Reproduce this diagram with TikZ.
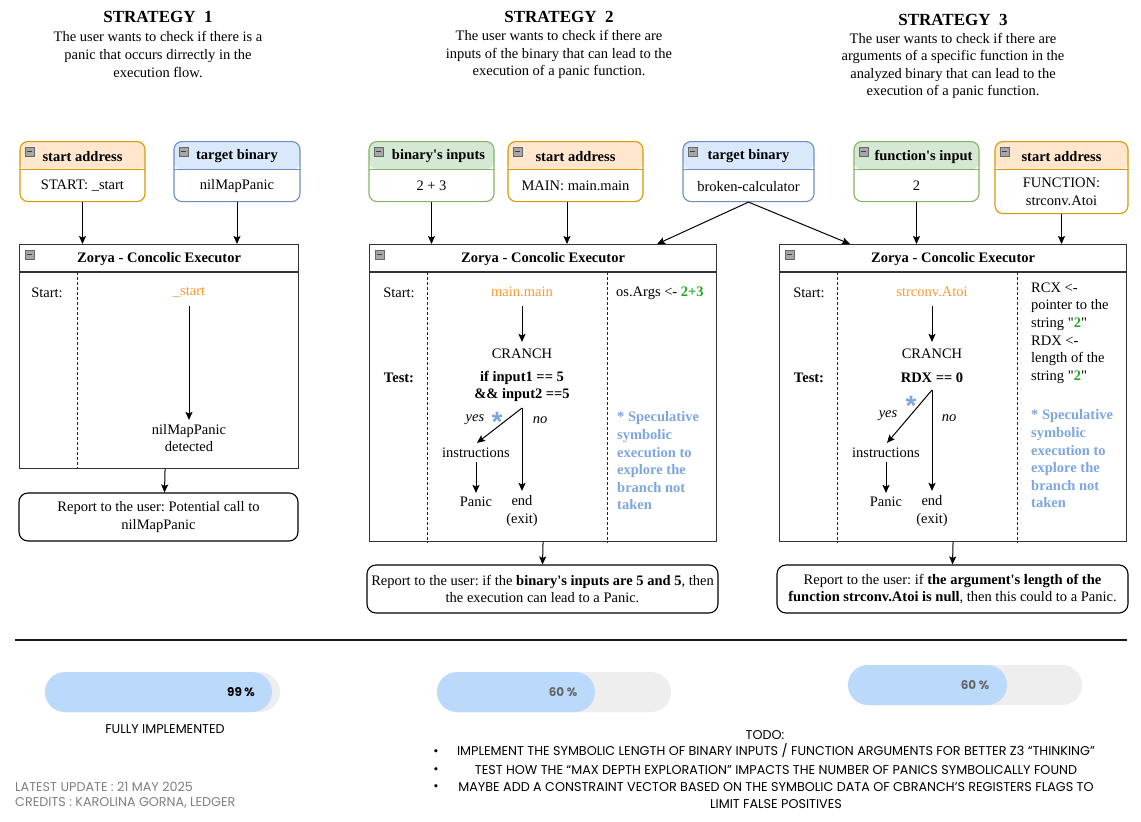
\documentclass[tikz,border=0pt]{standalone}
\usepackage{fontspec}
\setmainfont{Liberation Serif}[Ligatures=TeXOff]
\newfontfamily\pop{Poppins}
\newfontfamily\lsans{Liberation Sans}
\usetikzlibrary{arrows.meta}
\frenchspacing
\definecolor{cOf}{HTML}{FFE6CC}\definecolor{cOs}{HTML}{D79B00}
\definecolor{cBf}{HTML}{DAE8FC}\definecolor{cBs}{HTML}{6C8EBF}
\definecolor{cGf}{HTML}{D5E8D4}\definecolor{cGs}{HTML}{82B366}
\definecolor{orangeT}{HTML}{FF9933}
\definecolor{greenT}{HTML}{1FAA1F}
\definecolor{blueT}{HTML}{7EA6E0}
\definecolor{barB}{HTML}{BBDAFB}
\definecolor{barG}{HTML}{EEEEEE}
\definecolor{footG}{HTML}{808080}
\definecolor{pctG}{HTML}{666666}
\tikzset{
  every node/.style={font=\frenchspacing\fontsize{14.5}{17.6}\selectfont, inner sep=1pt, align=center},
  arr/.style={-{Stealth[length=8pt,width=7pt,inset=1.5pt]}, line width=1pt},
  swim/.style={rounded corners=8pt, line width=1.1pt, fill=white, inner sep=0pt},
  hdr/.style={font=\fontsize{14.5}{16}\selectfont\bfseries},
  ttl/.style={font=\fontsize{17}{20}\selectfont\bfseries},
  zbox/.style={draw=black!80, line width=1.1pt, inner sep=0pt},
  zsep/.style={draw=black!80, line width=1.1pt},
  dsep/.style={draw=black!85, line width=1pt, dash pattern=on 3pt off 2pt},
  boldt/.style={font=\fontsize{14.5}{17}\selectfont\bfseries},
  ital/.style={font=\fontsize{14.5}{16}\selectfont\itshape},
  orng/.style={text=orangeT},
  spec/.style={font=\fontsize{14.5}{17.6}\selectfont\bfseries, text=blueT, align=left},
  astx/.style={font=\lsans\fontsize{28}{28}\selectfont\bfseries, text=blueT, inner sep=0pt},
  report/.style={draw=black, line width=1.1pt, rounded corners=9pt, fill=white},
  iconst/.style={fill=black!35, draw=black!60, line width=0.5pt},
  popf/.style={font=\pop\fontsize{12.75}{15}\selectfont},
  pctf/.style={font=\pop\fontsize{12}{14}\selectfont\bfseries},
}
\newcommand\minusicon[1]{%
  \filldraw[iconst] ([shift={(6pt,-6pt)}]#1.north west) rectangle ([shift={(15pt,-15pt)}]#1.north west);
  \draw[line width=0.9pt, black!75] ([shift={(8pt,-10.5pt)}]#1.north west) -- ([shift={(13pt,-10.5pt)}]#1.north west);}
\newcommand\swimbox[9]{%
  \node[swim, draw=c#6s, minimum width=#4pt, minimum height=#5pt, anchor=north,
    path picture={\fill[c#6f] (path picture bounding box.north west) rectangle ([yshift=-28pt]path picture bounding box.north east);
      \draw[c#6s, line width=1.1pt] ([yshift=-28pt]path picture bounding box.north west) -- ([yshift=-28pt]path picture bounding box.north east);}] (#1) at (#2,#3) {};
  \node[hdr] (#1h) at ([xshift=#9pt,yshift=-15.5pt]#1.north) {#7};
  \node (#1b) at ([yshift=-14.5pt]#1.center) {#8};
  \minusicon{#1}}
\begin{document}
\begin{tikzpicture}[x=1pt,y=-1pt]
\useasboundingbox[fill=white] (0,0) rectangle (1141,822);

% titles
\node[ttl] (t1) at (158,17) {STRATEGY\ \ 1};
\node (d1) at (158,54.5) {The user wants to check if there is a\\panic that occurs dirrectly in the\\execution flow.};
\node[ttl] (t2) at (559,17) {STRATEGY\ \ 2};
\node (d2) at (559,54.5) {The user wants to check if there are\\inputs of the binary that can lead to the\\execution of a panic function.};
\node[ttl] (t3) at (953,20) {STRATEGY\ \ 3};
\node (d3) at (953,66) {The user wants to check if there are\\arguments of a specific function in the\\analyzed binary that can lead to the\\execution of a panic function.};

% input boxes
\swimbox{sa1}{82.5}{141}{125}{60}{O}{start address}{START: \_start}{0}
\swimbox{tb1}{237}{141}{126}{60}{B}{target binary}{nilMapPanic}{0}
\swimbox{bi2}{431.5}{141}{125}{60}{G}{binary's inputs}{2 + 3}{7}
\swimbox{sa2}{575.5}{141}{135}{60}{O}{start address}{MAIN: main.main}{0}
\swimbox{tb2}{748.5}{141}{131}{60}{B}{target binary}{broken-calculator}{0}
\swimbox{fi3}{916.5}{141}{125}{60}{G}{function's input}{2}{7}
\swimbox{sa3}{1061.5}{141}{133}{72}{O}{start address}{FUNCTION:\\strconv.Atoi}{0}

% Zorya boxes
\node[zbox, minimum width=279pt, minimum height=224pt, anchor=north west] (z1) at (19,244) {};
\node[zbox, minimum width=347pt, minimum height=297pt, anchor=north west] (z2) at (369,244) {};
\node[zbox, minimum width=347pt, minimum height=297pt, anchor=north west] (z3) at (779,244) {};
\foreach \z in {z1,z2,z3}{
  \draw[zsep] ([yshift=-28pt]\z.north west) -- ([yshift=-28pt]\z.north east);
  \node[hdr] (\z t) at ([yshift=-15.5pt]\z.north) {Zorya - Concolic Executor};
  \minusicon{\z}
  \draw[dsep] ([xshift=58pt,yshift=-28pt]\z.north west) -- ([xshift=58pt]\z.south west);
}
\draw[dsep] ([xshift=238pt,yshift=-28pt]z2.north west) -- ([xshift=238pt]z2.south west);
\draw[dsep] ([xshift=238pt,yshift=-28pt]z3.north west) -- ([xshift=238pt]z3.south west);

% strategy 1 contents
\node (s1l) at (47,293) {Start:};
\node[orng] (m1) at (189,292) {\_start};
\node (det1) at (189,438) {nilMapPanic\\detected};
\draw[arr] ([yshift=-8pt]m1.south) -- ([yshift=3pt]det1.north);

% strategy 2 contents
\node (s2l) at (399,293) {Start:};
\node[boldt] (t2l) at (399,378) {Test:};
\node[orng] (m2) at (522,292) {main.main};
\node (c2) at (522,354) {CRANCH};
\node[boldt] (if2) at (522,386) {if input1 == 5\\\&\& input2 ==5};
\coordinate (br2) at (522,408);
\node (in2) at (476,453) {instructions};
\node (p2) at (476,502) {Panic};
\node (e2) at (522,511) {end\\(exit)};
\node[ital] (y2) at (475,420) {yes};
\node[astx] (a2) at (497,422) {*};
\node[ital] (n2) at (540,420) {no};
\draw[arr] ([yshift=-8pt]m2.south) -- ([yshift=6pt]c2.north);
\draw[arr] (br2) -- ([xshift=1pt,yshift=4pt]in2.north);
\draw[arr] (br2) -- ([yshift=3.5pt]e2.north);
\draw[arr] ([yshift=-3pt]in2.south) -- ([yshift=3pt]p2.north);
\node[anchor=west] (os2) at (615,293) {os.Args <- \textcolor{greenT}{\textbf{2+3}}};
\node[spec, anchor=west] (sp2) at (616,461) {* Speculative\\symbolic\\execution to\\explore the\\branch not\\taken};

% strategy 3 contents
\node (s3l) at (809,293) {Start:};
\node[boldt] (t3l) at (809,378) {Test:};
\node[orng] (m3) at (932,292) {strconv.Atoi};
\node (c3) at (932,354) {CRANCH};
\node[boldt] (if3) at (932,378) {RDX == 0};
\coordinate (br3) at (932,390);
\node (in3) at (886,453) {instructions};
\node (p3) at (886,502) {Panic};
\node (e3) at (932,511) {end\\(exit)};
\node[ital] (y3) at (888,416) {yes};
\node[astx] (a3) at (911,406) {*};
\node[ital] (n3) at (949,418) {no};
\draw[arr] ([yshift=-8pt]m3.south) -- ([yshift=6pt]c3.north);
\draw[arr] (br3) -- ([xshift=1pt,yshift=4pt]in3.north);
\draw[arr] (br3) -- ([yshift=3.5pt]e3.north);
\draw[arr] ([yshift=-3pt]in3.south) -- ([yshift=3pt]p3.north);
\node[anchor=west, align=left] (rc3) at (1030,333) {RCX <-\\pointer to the\\string "\textcolor{greenT}{\textbf{2}}"\\RDX <-\\length of the\\string "\textcolor{greenT}{\textbf{2}}"};
\node[spec, anchor=west] (sp3) at (1030,459) {* Speculative\\symbolic\\execution to\\explore the\\branch not\\taken};

% reports
\node[report, minimum width=279pt, minimum height=48pt] (r1) at (158.5,517) {Report to the user: Potential call to\\nilMapPanic};
\node[report, minimum width=351pt, minimum height=48pt] (r2) at (542.5,589) {Report to the user: if the \textbf{binary's inputs are 5 and 5}, then\\the execution can lead to a Panic.};
\node[report, minimum width=351pt, minimum height=48pt] (r3) at (952.5,589) {Report to the user: if \textbf{the argument's length of the}\\\textbf{function strconv.Atoi is null}, then this could to a Panic.};

% connectors
\draw[arr] (sa1.south) -- (sa1.south |- z1.north);
\draw[arr] (tb1.south) -- (tb1.south |- z1.north);
\draw[arr] (bi2.south) -- (bi2.south |- z2.north);
\draw[arr] ([xshift=-8.5pt]sa2.south) -- ([xshift=-8.5pt]sa2.south |- z2.north);
\draw[arr] (tb2.south) -- ([xshift=-60pt]z2.north east);
\draw[arr] (tb2.south) -- ([xshift=71pt]z3.north west);
\draw[arr] (fi3.south) -- (fi3.south |- z3.north);
\draw[arr] (sa3.south) -- (sa3.south |- z3.north);
\draw[arr] ([xshift=6pt]z1.south) -- ([xshift=6pt]r1.north);
\draw[arr] (z2.south) -- (r2.north);
\draw[arr] (z3.south) -- (r3.north);

% rule
\coordinate (hl) at (15,640);
\coordinate (hr) at (1127,640);
\draw[line width=1.3pt, black!90] (hl) -- (hr);

% progress bars
\fill[barG, rounded corners=20pt] (45,672) rectangle (280,712);
\fill[barB, rounded corners=20pt] (45,672) rectangle (272,712);
\node[pctf] (pc1) at (241,692) {99 \%};
\fill[barG, rounded corners=20pt] (437,672) rectangle (671,712);
\fill[barB, rounded corners=20pt] (437,672) rectangle (595,712);
\node[pctf, text=pctG] (pc2) at (563,692) {60 \%};
\fill[barG, rounded corners=20pt] (848,665) rectangle (1082,705);
\fill[barB, rounded corners=20pt] (848,665) rectangle (1007,705);
\node[pctf, text=pctG] (pc3) at (975,685) {60 \%};

\node[popf] (fi) at (165,729) {FULLY IMPLEMENTED};

\node[popf] (todo) at (765,735) {TODO:};
\node[popf] (b1) at (436,753) {•};
\node[popf] (b2) at (436,771) {•};
\node[popf] (b3) at (436,788) {•};
\node[popf] (l1) at (776,751) {IMPLEMENT THE SYMBOLIC LENGTH OF BINARY INPUTS / FUNCTION ARGUMENTS FOR BETTER Z3 “THINKING”};
\node[popf] (l2) at (776,770) {TEST HOW THE “MAX DEPTH EXPLORATION” IMPACTS THE NUMBER OF PANICS SYMBOLICALLY FOUND};
\node[popf] (l3) at (776,787) {MAYBE ADD A CONSTRAINT VECTOR BASED ON THE SYMBOLIC DATA OF CBRANCH’S REGISTERS FLAGS TO};
\node[popf] (l4) at (776,804) {LIMIT FALSE POSITIVES};

\node[popf, text=footG, anchor=west] (f1) at (14,787) {LATEST UPDATE : 21 MAY 2025};
\node[popf, text=footG, anchor=west] (f2) at (14,803) {CREDITS : KAROLINA GORNA, LEDGER};
\end{tikzpicture}
\end{document}
